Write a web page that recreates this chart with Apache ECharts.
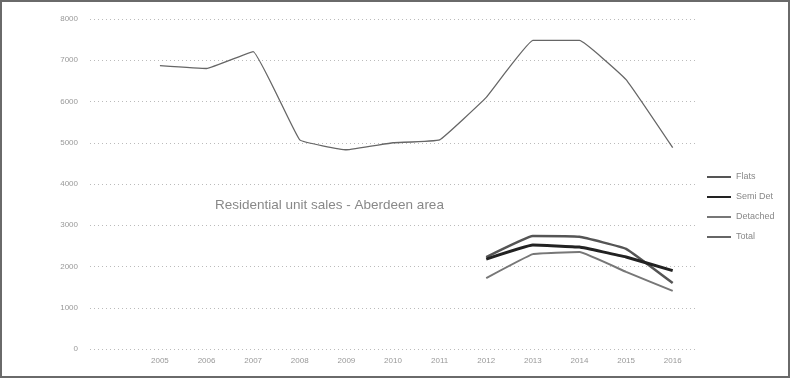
<!DOCTYPE html>
<html>
<head>
<meta charset="utf-8">
<script src="https://cdn.jsdelivr.net/npm/echarts@6/dist/echarts.min.js"></script>
<style>
html, body { margin: 0; padding: 0; background: #fff; }
#chart { width: 792px; height: 380px; }
</style>
</head>
<body>
<div id="chart"></div>
<script>
// years on the axis (the plot keeps one empty slot before 2005)
var years = ['2005', '2006', '2007', '2008', '2009', '2010', '2011', '2012', '2013', '2014', '2015', '2016'];
var flats = [null, null, null, null, null, null, null, 2230, 2740, 2720, 2430, 1600];
var semiDet = [null, null, null, null, null, null, null, 2180, 2520, 2470, 2230, 1900];
var detached = [null, null, null, null, null, null, null, 1720, 2300, 2350, 1870, 1410];
var total = [6870, 6800, 7210, 5070, 4830, 5000, 5070, 6100, 7480, 7480, 6530, 4880];
var yTicks = [0, 1000, 2000, 3000, 4000, 5000, 6000, 7000, 8000];

//构建系列
function lineSeries(name, data, color, width){
	return {
		name: name,
		type: 'line',
		symbol: 'none',
		smooth: 0.08,
		data: [null].concat(data),
		lineStyle: { color: color, width: width },
		itemStyle: { color: color }
	};
}

var myChart = echarts.init(document.getElementById('chart'));
var option = {
	animation: false,
	backgroundColor: '#fff',
	graphic: [{
		type: 'rect',
		shape: { x: 1, y: 1, width: 788, height: 376 },
		style: { fill: 'none', stroke: '#6a6a6a', lineWidth: 2 }
	}, {
		type: 'text',
		left: 215, top: 198,
		style: { text: 'Residential unit sales - Aberdeen area', fill: '#888', font: '13.5px "Liberation Sans", Arial, sans-serif' }
	}],
	legend: {
		orient: 'vertical',
		left: 702,
		top: 166,
		itemGap: 8,
		itemWidth: 24,
		itemHeight: 12,
		icon: 'path://M0,5 L24,5 L24,7 L0,7 Z',
		textStyle: { color: '#888', fontSize: 9, lineHeight: 12, fontFamily: 'Liberation Sans, Arial, sans-serif' },
		data: ['Flats', 'Semi Det', 'Detached', 'Total']
	},
	grid: { left: 90, right: 96, top: 19, bottom: 31 },
	xAxis: {
		type: 'category',
		boundaryGap: true,
		data: [''].concat(years),
		axisLine: { show: false },
		axisTick: { show: false },
		axisLabel: { color: '#999', fontSize: 8, margin: 8, fontFamily: 'Liberation Sans, Arial, sans-serif' }
	},
	yAxis: {
		type: 'value',
		min: yTicks[0],
		max: yTicks[yTicks.length - 1],
		interval: 1000,
		axisLine: { show: false },
		axisTick: { show: false },
		axisLabel: {
			color: '#999', fontSize: 8, margin: 12, fontFamily: 'Liberation Sans, Arial, sans-serif',
			formatter: function(v){ return String(v); }
		},
		splitLine: { lineStyle: { color: '#bbb', type: [1, 3], width: 1 } }
	},
	series: [
		lineSeries('Flats', flats, '#555', 2.5),
		lineSeries('Semi Det', semiDet, '#222', 3),
		lineSeries('Detached', detached, '#777', 2),
		lineSeries('Total', total, '#666', 1.3)
	]
};
myChart.setOption(option, true);
</script>
</body>
</html>
